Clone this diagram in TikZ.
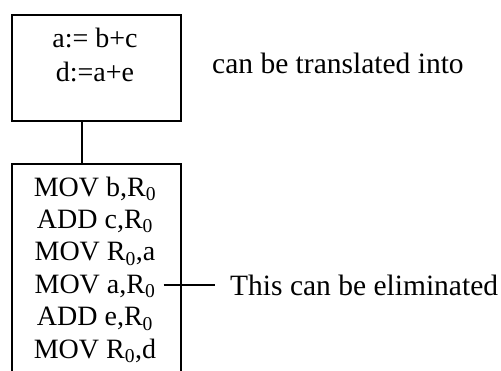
\documentclass[tikz,border=0pt]{standalone}
\usepackage{fontspec}
\setmainfont{Liberation Serif}
\begin{document}
\begin{tikzpicture}[x=1pt,y=-1pt,
  box/.style={draw, line width=1.6pt, inner sep=0pt},
  txt/.style={font=\fontsize{28}{32}\selectfont, inner sep=0pt, anchor=base},
  note/.style={font=\fontsize{29.5}{34}\selectfont, inner sep=0pt, anchor=base west},
  link/.style={line width=1.4pt}]
\useasboundingbox (0,0) rectangle (501,370);
\begin{scope}
\clip (0,0) rectangle (501,370);
\node[box, minimum width=169pt, minimum height=106pt] (src) at (96.5,68) {};
\node[box, minimum width=169pt, minimum height=240pt, anchor=north] (tgt) at (96.5,163) {};
\end{scope}
\coordinate (cx) at (82,0);
\draw[link] (src.south -| cx) -- (tgt.north -| cx);
\node[txt] (s1) at (95,47) {a:= b+c};
\node[txt] (s2) at (95,81) {d:=a+e};
\node[note] (trans) at (212,73) {can be translated into};
\node[txt] (l1) at (95,196) {MOV b,R\textsubscript{0}};
\node[txt] (l2) at (95,228.4) {ADD c,R\textsubscript{0}};
\node[txt] (l3) at (95,260.8) {MOV R\textsubscript{0},a};
\node[txt] (l4) at (95,293.2) {MOV a,R\textsubscript{0}};
\node[txt] (l5) at (95,325.6) {ADD e,R\textsubscript{0}};
\node[txt] (l6) at (95,358) {MOV R\textsubscript{0},d};
\node[note] (elim) at (230,295) {This can be eliminated};
\draw[link] ([xshift=8pt]l4.east |- elim.west) -- ([xshift=-15pt]elim.west);
\end{tikzpicture}
\end{document}
